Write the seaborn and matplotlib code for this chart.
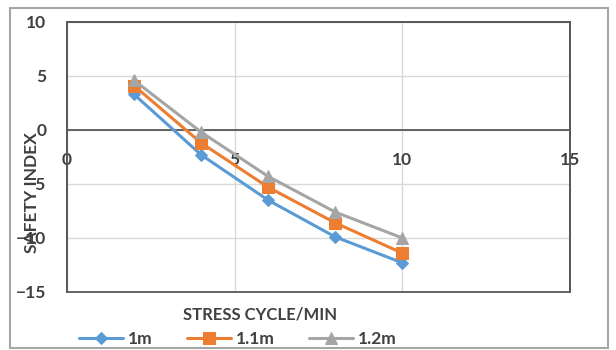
import matplotlib
matplotlib.use("Agg")
import matplotlib.pyplot as plt
import seaborn as sns
import pandas as pd
from matplotlib.patches import Rectangle

x_vals = [2, 4, 6, 8, 10]
s_1m = [3.3, -2.3, -6.5, -9.9, -12.3]
s_11m = [4.1, -1.2, -5.3, -8.6, -11.4]
s_12m = [4.6, -0.2, -4.3, -7.6, -10.0]
series_names = ["1m", "1.1m", "1.2m"]
x_ticks = [0, 5, 10, 15]
y_ticks = [-15, -10, -5, 0, 5, 10]

df = pd.DataFrame({
    "x": x_vals * 3,
    "y": s_1m + s_11m + s_12m,
    "series": [series_names[0]] * 5 + [series_names[1]] * 5 + [series_names[2]] * 5,
})

sns.set_theme(style="white")
plt.rcParams["font.family"] = ["Lato", "DejaVu Sans"]
plt.rcParams["font.weight"] = "bold"

txt = "#404040"
colors = {"1m": "#5B9BD5", "1.1m": "#ED7D31", "1.2m": "#A5A5A5"}
markers = {"1m": "D", "1.1m": "s", "1.2m": "^"}
msize = {"1m": 6, "1.1m": 8, "1.2m": 9}
fs = 12.5

fig = plt.figure(figsize=(6.16, 3.5), dpi=100)
ax = fig.add_axes([67 / 616, 1 - 292 / 350, 503 / 616, 270 / 350])

for name in series_names:
    sub = df[df["series"] == name]
    sns.lineplot(data=sub, x="x", y="y", ax=ax, color=colors[name], marker=markers[name],
                 markersize=msize[name], markeredgecolor=colors[name], linewidth=2.2,
                 label=name, zorder=3)

ax.set_xlim(0, 15)
ax.set_ylim(-15, 10)
ax.set_xticks(x_ticks)
ax.set_yticks(y_ticks)
ax.grid(True, color="#d9d9d9", linewidth=1.0)
ax.set_axisbelow(True)

for s in ["top", "left", "right"]:
    ax.spines[s].set_color("#595959")
    ax.spines[s].set_linewidth(1.3)
ax.spines["bottom"].set_position(("data", 0))
ax.spines["bottom"].set_color("#595959")
ax.spines["bottom"].set_linewidth(1.3)
ax.add_patch(Rectangle((0, 0), 1, 1, transform=ax.transAxes, fill=False,
                       edgecolor="#595959", linewidth=1.3, clip_on=False, zorder=4))

ax.tick_params(axis="x", length=0, pad=16, labelsize=fs, labelcolor=txt)
ax.tick_params(axis="y", length=0, pad=15, labelsize=fs, labelcolor=txt)
for lab in ax.get_xticklabels() + ax.get_yticklabels():
    lab.set_fontweight("bold")

ax.set_xlabel("STRESS CYCLE/MIN", fontsize=12, fontweight="bold", color=txt)
ax.xaxis.set_label_coords((260 - 67) / 503, (292 - 306) / 270)
ax.set_ylabel("SAFETY INDEX", fontsize=fs, fontweight="bold", color=txt)
ax.yaxis.set_label_coords((40 - 67) / 503, (292 - 193) / 270)

ax.get_legend().remove()
handles, labels = ax.get_legend_handles_labels()
fig.legend(handles, labels, loc="center", bbox_to_anchor=(238 / 616, 1 - 339 / 350),
           ncol=3, frameon=False, handlelength=2.5, columnspacing=2.0,
           handletextpad=0.3, labelcolor=txt, prop={"weight": "bold", "size": fs})

fig.add_artist(Rectangle((10 / 616, 2 / 350), 598 / 616, 340 / 350, transform=fig.transFigure,
                         fill=False, edgecolor="#a6a6a6", linewidth=1.5))

fig.savefig("out.png", dpi=100)
